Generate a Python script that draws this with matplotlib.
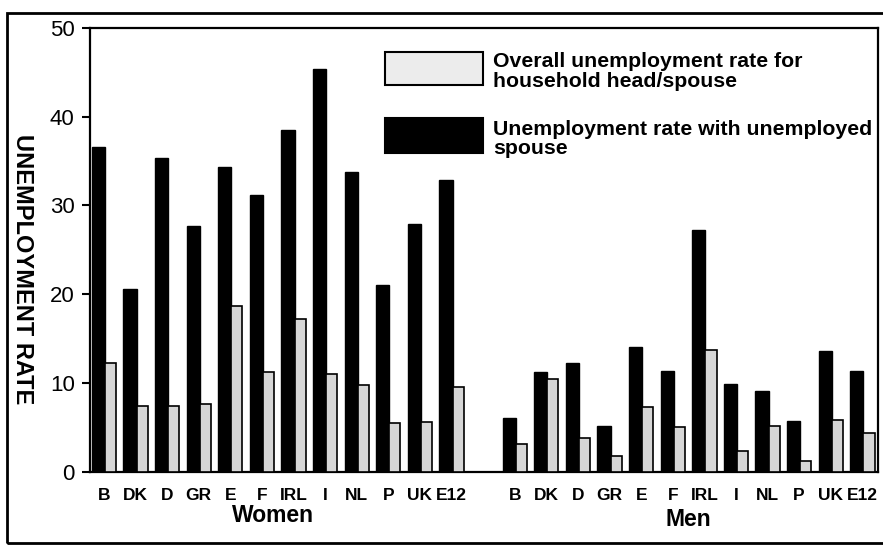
import matplotlib
matplotlib.use("Agg")
import matplotlib.pyplot as plt
from matplotlib.patches import Rectangle

countries = ["B", "DK", "D", "GR", "E", "F", "IRL", "I", "NL", "P", "UK", "E12"]
women_spouse = [36.6, 20.6, 35.3, 27.7, 34.3, 31.2, 38.5, 45.4, 33.8, 21.0, 27.9, 32.9]
women_overall = [12.3, 7.4, 7.4, 7.6, 18.7, 11.2, 17.2, 11.0, 9.8, 5.5, 5.6, 9.5]
men_spouse = [6.0, 11.2, 12.2, 5.2, 14.1, 11.3, 27.2, 9.9, 9.1, 5.7, 13.6, 11.3]
men_overall = [3.1, 10.5, 3.8, 1.8, 7.3, 5.0, 13.7, 2.3, 5.2, 1.2, 5.8, 4.4]
group_labels = ["Women", "Men"]
legend_labels = ["Overall unemployment rate for\nhousehold head/spouse",
                 "Unemployment rate with unemployed\nspouse"]
yticks = [0, 10, 20, 30, 40, 50]

W, H = 883, 548
fig = plt.figure(figsize=(W / 100, H / 100), dpi=100)
plt.rcParams['font.family'] = ['Liberation Sans', 'DejaVu Sans']

def fx(x):
    return x / W

def fy(y):
    return 1 - y / H

ax = fig.add_axes([fx(90), fy(471.7), fx(878) - fx(90), fy(28) - fy(471.7)])

bw_black = 0.42
bw_grey = 0.35
n = len(countries)
xw = list(range(n))
xm = [13 + i for i in range(n)]

grey = "#d6d6d6"
ax.bar(xw, women_spouse, width=bw_black, align="edge", color="black",
       edgecolor="black", linewidth=1, zorder=2)
ax.bar([x + bw_black for x in xw], women_overall, width=bw_grey, align="edge",
       color=grey, edgecolor="black", linewidth=1.2, zorder=3)
ax.bar(xm, men_spouse, width=bw_black, align="edge", color="black",
       edgecolor="black", linewidth=1, zorder=2)
ax.bar([x + bw_black for x in xm], men_overall, width=bw_grey, align="edge",
       color=grey, edgecolor="black", linewidth=1.2, zorder=3)

ax.set_xlim(-0.054, 24.88)
ax.set_ylim(0, 50)
ax.set_yticks(yticks)
ax.set_yticklabels([str(t) for t in yticks], fontsize=16)
ax.tick_params(axis="y", direction="out", length=6, width=1.5, pad=5)

centers = [x + (bw_black + bw_grey) / 2 for x in xw + xm]
ax.set_xticks(centers)
ax.set_xticklabels(countries + countries, fontsize=12.5, fontweight="bold")
ax.tick_params(axis="x", length=0, pad=12)

for s in ax.spines.values():
    s.set_linewidth(1.6)

ax.set_ylabel("UNEMPLOYMENT RATE", rotation=270, fontsize=17, fontweight="bold",
              labelpad=0)
ax.yaxis.set_label_coords(fx(22 - 90) / (fx(878) - fx(90)), 0.457)
ax.yaxis.label.set_va("center")

fig.text(fx(273), fy(516), group_labels[0], fontsize=16.5, fontweight="bold",
         ha="center", va="center")
fig.text(fx(688), fy(519), group_labels[1], fontsize=16.5, fontweight="bold",
         ha="center", va="center")

# legend
fig.patches.append(Rectangle((fx(385), fy(85)), fx(483) - fx(385), fy(52) - fy(85),
                             transform=fig.transFigure, facecolor="#ececec",
                             edgecolor="black", linewidth=1.5, zorder=5))
fig.patches.append(Rectangle((fx(385), fy(153)), fx(483) - fx(385), fy(118) - fy(153),
                             transform=fig.transFigure, facecolor="black",
                             edgecolor="black", linewidth=1.5, zorder=5))
fig.text(fx(493), fy(71.5), legend_labels[0], fontsize=15.3, fontweight="bold",
         ha="left", va="center", linespacing=1.02)
fig.text(fx(493), fy(139), legend_labels[1], fontsize=15.3, fontweight="bold",
         ha="left", va="center", linespacing=1.02)

# outer frame
fig.patches.append(Rectangle((fx(7), fy(543)), fx(900) - fx(7), fy(13) - fy(543),
                             transform=fig.transFigure, facecolor="none",
                             edgecolor="black", linewidth=2))

fig.savefig("out.png", dpi=100)
